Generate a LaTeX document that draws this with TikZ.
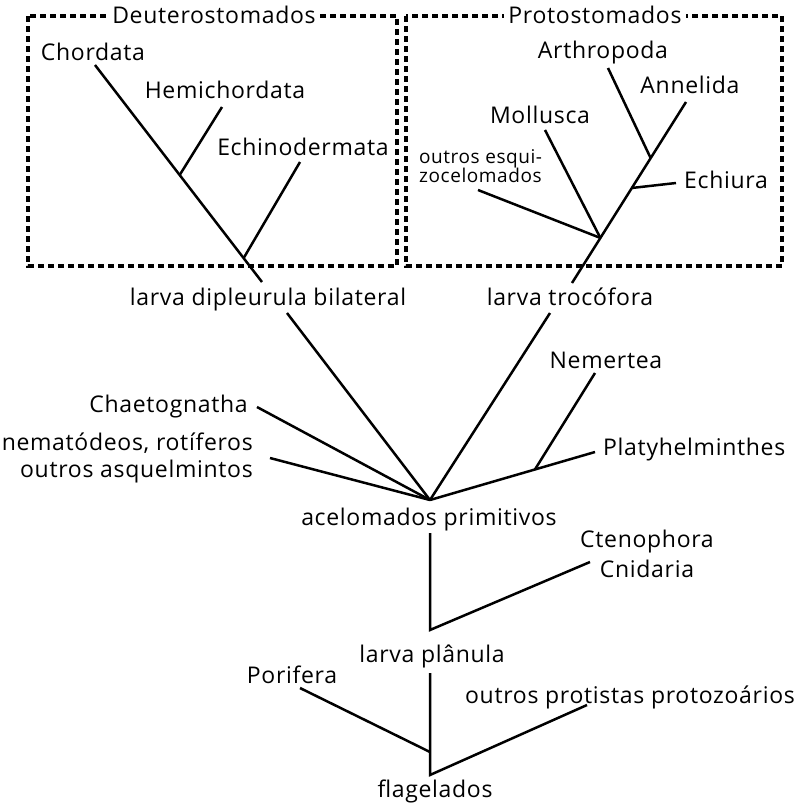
\documentclass[tikz,border=0pt]{standalone}
\usepackage{fontspec}
\setmainfont{Open Sans}[LetterSpace=3]
\newfontfamily\tightfont{Open Sans}[LetterSpace=3]
\usetikzlibrary{calc}

\begin{document}
\begin{tikzpicture}[x=1pt, y=-1pt,
taxon/.style={anchor=base, inner sep=0, font=\fontsize{23}{26}\selectfont},
esqui/.style={taxon, anchor=base west, font=\tightfont\fontsize{19}{20}\selectfont},
cladename/.style={taxon, fill=white, inner xsep=4pt, inner ysep=2pt},
clade/.style={line width=3.2pt, dash pattern=on 6pt off 4pt},
branch/.style={line width=2.5pt},
]
\useasboundingbox (0,0) rectangle (799,809);

%%%%%%%%%%%%%%%%%%%%%%%% CLADES %%%%%%%%%%%%%%%%%%%%%%%%
\draw[clade] (28,16) rectangle (397,266);
\draw[clade] (406,16) rectangle (782,266);
\node[cladename] (Deutero) at (214,23) {Deuterostomados};
\node[cladename] (Proto) at (595,23) {Protostomados};

%%%%%%%%%%%%%%%%%%%%%%%% NAMES %%%%%%%%%%%%%%%%%%%%%%%%
\node[taxon] (Chordata) at (93,60) {Chordata};
\node[taxon] (Hemichordata) at (225,98) {Hemichordata};
\node[taxon] (Echinodermata) at (303,155) {Echinodermata};
\node[taxon] (Arthropoda) at (603,58) {Arthropoda};
\node[taxon] (Annelida) at (690,93) {Annelida};
\node[taxon] (Mollusca) at (540,123) {Mollusca};
\node[esqui] (Esqui) at (419,163) {outros esqui-};
\node[esqui] (Zocelomados) at (419,182) {zocelomados};
\node[taxon] (Echiura) at (726,188) {Echiura};
\node[taxon] (Dipleurula) at (268,305) {larva dipleurula bilateral};
\node[taxon] (Trocofora) at (570,305) {larva trocófora};
\node[taxon] (Nemertea) at (606,368) {Nemertea};
\node[taxon, anchor=base east] (Chaetognatha) at (248,412) {Chaetognatha};
\node[taxon, anchor=base east] (Nematodeos) at (253,450) {nematódeos, rotíferos};
\node[taxon, anchor=base east] (Asquelmintos) at (253,477) {outros asquelmintos};
\node[taxon, anchor=base west] (Platyhelminthes) at (603,455) {Platyhelminthes};
\node[taxon] (Acelomados) at (429,525) {acelomados primitivos};
\node[taxon] (Ctenophora) at (647,547) {Ctenophora};
\node[taxon] (Cnidaria) at (647,577) {Cnidaria};
\node[taxon] (Planula) at (432,662) {larva plânula};
\node[taxon] (Porifera) at (292,683) {Porifera};
\node[taxon] (Protistas) at (630,703) {outros protistas protozoários};
\node[taxon] (Flagelados) at (435,797) {flagelados};

%%%%%%%%%%
%% POINTS %%
%%%%%%%%%%
% Deuterostomados
\coordinate (DeutRoot) at (262,282);
\coordinate (ChordataEnd) at (95,65);
\coordinate (HemiJoin) at ($(DeutRoot)!0.493!(ChordataEnd)$);
\coordinate (HemiEnd) at (222,107);
\coordinate (EchinoJoin) at ($(DeutRoot)!0.11!(ChordataEnd)$);
\coordinate (EchinoEnd) at (300,162);
% Protostomados
\coordinate (ProtRoot) at (572,283);
\coordinate (AnnelidaEnd) at (686,102);
\coordinate (SchizoJoin) at ($(ProtRoot)!0.249!(AnnelidaEnd)$);
\coordinate (EchiuraJoin) at ($(ProtRoot)!0.525!(AnnelidaEnd)$);
\coordinate (ArthroJoin) at ($(ProtRoot)!0.69!(AnnelidaEnd)$);
\coordinate (ArthroEnd) at (608,68);
\coordinate (EchiuraEnd) at (676,183);
\coordinate (MolluscaEnd) at (545,130);
\coordinate (EsquiEnd) at (478,190);
% acelomados
\coordinate (Apex) at (430,500);
\coordinate (DipleurulaEnd) at (287,313);
\coordinate (TrocoforaEnd) at (550,313);
\coordinate (ChaetoEnd) at (257,407);
\coordinate (NematoEnd) at (270,458);
\coordinate (PlatyEnd) at (595,452);
\coordinate (NemerteaJoin) at ($(Apex)!0.636!(PlatyEnd)$);
\coordinate (NemerteaEnd) at (595,373);
% planula, flagelados
\coordinate (AceloBottom) at (430,533);
\coordinate (PlanulaJoin) at (430,630);
\coordinate (CnidariaEnd) at (590,562);
\coordinate (PlanulaBottom) at (430,673);
\coordinate (FlagJoin) at (430,775);
\coordinate (PoriferaJoin) at (430,752);
\coordinate (PoriferaEnd) at (300,688);
\coordinate (ProtistasEnd) at (587,705);

%%%%%%%%%%%%%%%%%%%%%%%% TREE %%%%%%%%%%%%%%%%%%%%%%%%
\draw[branch] (DeutRoot) -- (ChordataEnd);
\draw[branch] (HemiJoin) -- (HemiEnd);
\draw[branch] (EchinoJoin) -- (EchinoEnd);

\draw[branch] (ProtRoot) -- (AnnelidaEnd);
\draw[branch] (ArthroJoin) -- (ArthroEnd);
\draw[branch] (EchiuraJoin) -- (EchiuraEnd);
\draw[branch] (SchizoJoin) -- (MolluscaEnd);
\draw[branch] (SchizoJoin) -- (EsquiEnd);

\draw[branch] (Apex) -- (DipleurulaEnd);
\draw[branch] (Apex) -- (TrocoforaEnd);
\draw[branch] (Apex) -- (ChaetoEnd);
\draw[branch] (Apex) -- (NematoEnd);
\draw[branch] (Apex) -- (PlatyEnd);
\draw[branch] (NemerteaJoin) -- (NemerteaEnd);

\draw[branch] (AceloBottom) -- (PlanulaJoin) -- (CnidariaEnd);
\draw[branch] (PlanulaBottom) -- (FlagJoin) -- (ProtistasEnd);
\draw[branch] (PoriferaJoin) -- (PoriferaEnd);
\end{tikzpicture}
\end{document}
